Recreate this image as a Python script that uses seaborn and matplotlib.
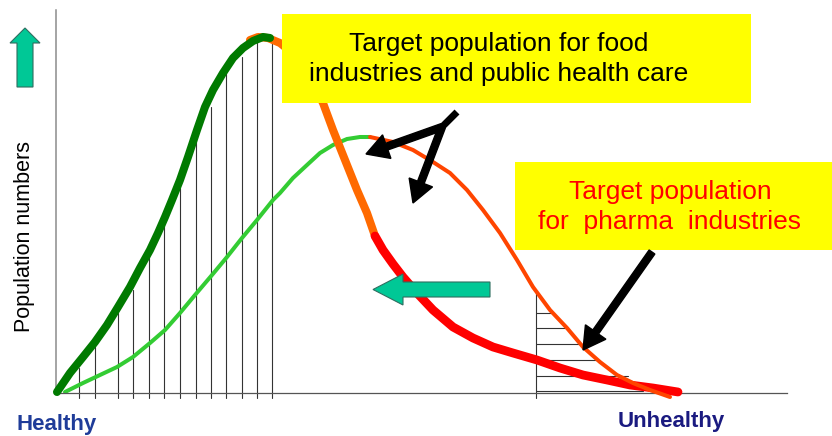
import numpy as np
import matplotlib
matplotlib.use("Agg")
import matplotlib.pyplot as plt
import seaborn as sns
from matplotlib.patches import Rectangle, FancyArrow

sns.set_style("white")
plt.rcParams['font.family'] = ['Liberation Sans', 'DejaVu Sans']

# --- data (health axis: 0 = healthy, right = unhealthy; y = population numbers) ---
# current population, healthy part (dark green)
healthy_x = [1, 14, 27, 39, 51, 62, 74, 84, 94, 102, 109, 116, 124, 132, 141,
             149, 157, 167, 177, 187, 197, 207, 214]
healthy_y = [1, 20, 36, 51, 68, 86, 106, 125, 143, 160, 176, 193, 213, 236, 263,
             286, 303, 320, 335, 345, 352, 356, 355]
# current population, at-risk part (orange)
risk_x = [194, 202, 212, 224, 239, 254, 267, 277, 289, 301, 311, 319]
risk_y = [353, 356, 355, 350, 338, 315, 290, 263, 233, 203, 180, 157]
# current population, sick part (red)
sick_x = [319, 327, 337, 347, 361, 377, 397, 417, 437, 457, 481, 504, 527, 551,
          574, 597, 622]
sick_y = [157, 143, 129, 116, 100, 83, 66, 55, 46, 40, 33, 25, 18, 13, 8, 5, 1]
# shifted population (light green -> orange red)
shift_x = [9, 27, 44, 61, 77, 94, 109, 124, 139, 156, 171, 186, 201, 217, 224,
           237, 251, 264, 277, 291, 304, 314]
shift_y = [1, 10, 18, 26, 36, 50, 63, 80, 98, 118, 136, 155, 173, 193, 200,
           215, 228, 240, 248, 254, 256, 256]
shift_tail_x = [314, 337, 357, 377, 394, 411, 427, 444, 461, 477, 494, 511,
                527, 544, 561, 577, 594, 614]
shift_tail_y = [256, 251, 243, 231, 220, 203, 183, 160, 133, 106, 83, 65,
                46, 31, 18, 10, 3, -4]

# hatching under the healthy curve
hatch_x = [23, 39, 62, 77, 93, 108, 124, 140, 155, 170, 186, 201, 216]
hatch_top = [25, 50, 80, 103, 143, 174, 205, 258, 286, 321, 336, 352, 352]
# hatching in the pharma tail
tail_start = 480
tail_levels = [80, 65, 49, 33, 17, 2]
tail_ends = [496, 511, 527, 542, 572, 587]

food_text = "Target population for food\nindustries and public health care"
pharma_text = "Target population\nfor  pharma  industries"

W, H = 832, 436
fig = plt.figure(figsize=(W / 100, H / 100), dpi=100)
ax = fig.add_axes([56 / W, 43 / H, 731 / W, 383 / H])
ax.set_xlim(0, 731)
ax.set_ylim(0, 383)
ax.set_xticks([])
ax.set_yticks([])
for s in ['top', 'right']:
    ax.spines[s].set_visible(False)
ax.spines['left'].set_color('#8c8c8c')
ax.spines['left'].set_linewidth(1.1)
ax.spines['bottom'].set_color('#555555')
ax.spines['bottom'].set_linewidth(0.9)

# hatching
for x, top in zip(hatch_x, hatch_top):
    ax.plot([x, x], [-5, top], color='#333333', lw=0.8, zorder=1.5, clip_on=False)
ax.plot([tail_start, tail_start], [-5, 103], color='#333333', lw=0.8, zorder=1.5, clip_on=False)
for y, xe in zip(tail_levels, tail_ends):
    ax.plot([tail_start, xe], [y, y], color='#333333', lw=0.8, zorder=1.5)

# curves
line_kw = dict(ax=ax, sort=False, estimator=None, solid_capstyle='round',
               solid_joinstyle='round', clip_on=False)
sns.lineplot(x=shift_x, y=shift_y, color='#33cc33', linewidth=2.9, zorder=2, **line_kw)
sns.lineplot(x=risk_x, y=risk_y, color='#ff6a00', linewidth=5.8, zorder=3, **line_kw)
sns.lineplot(x=sick_x, y=sick_y, color='#ff0000', linewidth=6.3, zorder=3, **line_kw)
sns.lineplot(x=shift_tail_x, y=shift_tail_y, color='#ff4500', linewidth=2.9, zorder=4, **line_kw)
sns.lineplot(x=healthy_x, y=healthy_y, color='#007a00', linewidth=5.8, zorder=5, **line_kw)

# yellow label boxes
ax.add_patch(Rectangle((226, 290), 469, 89, fc='#ffff00', ec='none', zorder=6, clip_on=False))
ax.text(443, 334, food_text, ha='center', va='center', fontsize=19, color='black',
        linespacing=1.28, zorder=7)
ax.add_patch(Rectangle((459, 143), 317, 88, fc='#ffff00', ec='none', zorder=6, clip_on=False))
ax.text(614, 186, pharma_text, ha='center', va='center', fontsize=19, color='#ff0000',
        linespacing=1.28, zorder=7, clip_on=False)

# black pointer arrows
blk = dict(fc='black', ec='black', width=7, head_width=25, head_length=22,
           length_includes_head=True, zorder=8, clip_on=False)
ax.plot([401, 386], [281, 266], color='black', lw=5, solid_capstyle='butt', zorder=8)
ax.add_patch(FancyArrow(386, 266, 310 - 386, 239 - 266, **blk))
ax.add_patch(FancyArrow(386, 266, 357 - 386, 190 - 266, **blk))
ax.add_patch(FancyArrow(596, 141, 527 - 596, 43 - 141, **blk))

# teal shift arrows
teal = dict(fc='#00c896', ec='#2f6e60', lw=0.8, length_includes_head=True,
            zorder=8, clip_on=False)
ax.add_patch(FancyArrow(-31, 306, 0, 59, width=16, head_width=30, head_length=15, **teal))
ax.add_patch(FancyArrow(434, 103.5, -117, 0, width=15, head_width=31, head_length=30, **teal))

# labels
ax.text(-31, 156, 'Population numbers', rotation=90, ha='center', va='center',
        fontsize=15.5, color='black', clip_on=False)
ax.text(-39, -37, 'Healthy', ha='left', va='baseline', fontsize=16, fontweight='bold',
        color='#1f3c99', clip_on=False)
ax.text(562, -34, 'Unhealthy', ha='left', va='baseline', fontsize=16, fontweight='bold',
        color='#1a1a80', clip_on=False)

fig.savefig('out.png', dpi=100)
